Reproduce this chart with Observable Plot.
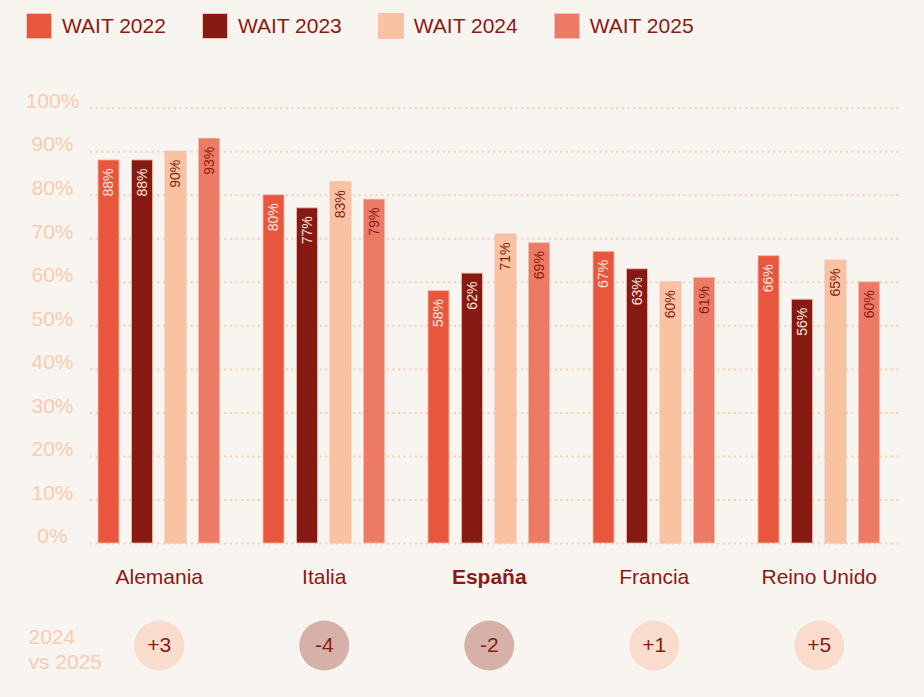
<!DOCTYPE html>
<html>
<head>
<meta charset="utf-8">
<script src="https://cdn.jsdelivr.net/npm/d3@7"></script>
<script src="https://cdn.jsdelivr.net/npm/@observablehq/plot@0.6"></script>
<style>
  html, body { margin: 0; padding: 0; background: #f8f4ef; }
  body { width: 924px; height: 697px; overflow: hidden; font-family: "Liberation Sans", Arial, sans-serif; }
  #legend { position: relative; height: 52px; display: flex; align-items: center; padding-left: 26px; gap: 36px; box-sizing: border-box; }
  .item { display: flex; align-items: center; gap: 10px; font-size: 21px; color: #8b1a14; }
  .sw { width: 24px; height: 24px; border: 1px solid #f6c2b0; }
  #chart { position: relative; width: 924px; height: 645px; }
  #chart svg { position: absolute; left: 0; top: 0; }
</style>
</head>
<body>
<div id="legend"></div>
<div id="chart"></div>
<script>
const countries = ["Alemania", "Italia", "España", "Francia", "Reino Unido"];
const years = ["WAIT 2022", "WAIT 2023", "WAIT 2024", "WAIT 2025"];
const wait2022 = [88, 80, 58, 67, 66];
const wait2023 = [88, 77, 62, 63, 56];
const wait2024 = [90, 83, 71, 60, 65];
const wait2025 = [93, 79, 69, 61, 60];
const deltas = [3, -4, -2, 1, 5];
const deltaLabels = ["+3", "-4", "-2", "+1", "+5"];
const yTicks = [0, 10, 20, 30, 40, 50, 60, 70, 80, 90, 100];
const rowLabel = "2024\nvs 2025";

const colors = ["#e8573d", "#861a13", "#f9c3a2", "#ec7a64"];
const dark = "#8b1a14";
const peach = "#f9cbb0";

const series = [wait2022, wait2023, wait2024, wait2025];
const data = [];
countries.forEach((c, i) => years.forEach((y, j) => data.push({country: c, year: y, value: series[j][i]})));
const deltaData = countries.map((c, i) => ({country: c, delta: deltas[i], label: deltaLabels[i]}));

// legend
const legend = document.getElementById("legend");
years.forEach((y, j) => {
  const it = document.createElement("div");
  it.className = "item";
  it.innerHTML = `<div class="sw" style="background:${colors[j]}"></div><span>${y}</span>`;
  legend.appendChild(it);
});

const W = 924, H = 645, MT = 55.7, MB = 154;
const font = {fontFamily: "'Liberation Sans', Arial, sans-serif", background: "transparent", overflow: "visible"};

const bg = Plot.plot({
  width: W, height: H, marginTop: MT, marginBottom: MB, marginLeft: 90, marginRight: 24,
  style: font,
  y: {domain: [0, 100], axis: null},
  marks: [
    Plot.ruleY(yTicks, {stroke: peach, strokeWidth: 2, strokeDasharray: "2,3.6"}),
    Plot.axisY(yTicks, {tickSize: 0, tickPadding: 38, textAnchor: "middle", fontSize: 21, fill: peach, dy: -7, tickFormat: d => d + "%"}),
    Plot.text([rowLabel], {text: d => d, frameAnchor: "bottom-left", textAnchor: "start", lineAnchor: "bottom", lineHeight: 1.19, dx: -62, dy: 125, fontSize: 21, fill: peach})
  ]
});

const fg = Plot.plot({
  width: W, height: H, marginTop: MT, marginBottom: MB, marginLeft: 85.5, marginRight: 32,
  style: font,
  fx: {domain: countries, paddingInner: 0.112, paddingOuter: 0, round: false, axis: null},
  x: {domain: years, paddingInner: 0.373, paddingOuter: 0.373, round: false, axis: null},
  y: {domain: [0, 100], axis: null},
  color: {domain: years, range: colors},
  marks: [
    Plot.barY(data, {fx: "country", x: "year", y: "value", fill: "year", stroke: "#f4bcaa", strokeWidth: 1, strokeOpacity: 0.8}),
    Plot.text(data.filter(d => d.year === years[0] || d.year === years[1]), {fx: "country", x: "year", y: "value", text: d => d.value + "%", rotate: -90, textAnchor: "end", dy: 8, fontSize: 14, fill: "#fae6de"}),
    Plot.text(data.filter(d => d.year === years[2] || d.year === years[3]), {fx: "country", x: "year", y: "value", text: d => d.value + "%", rotate: -90, textAnchor: "end", dy: 8, fontSize: 14, fill: dark}),
    Plot.text(countries.filter(c => c !== "España"), {fx: d => d, text: d => d, frameAnchor: "bottom", lineAnchor: "bottom", dy: 40, fontSize: 21, fill: dark}),
    Plot.text(countries.filter(c => c === "España"), {fx: d => d, text: d => d, frameAnchor: "bottom", lineAnchor: "bottom", dy: 40, fontSize: 21, fontWeight: "bold", fill: dark}),
    Plot.dot(deltaData.filter(d => d.delta >= 0), {fx: "country", frameAnchor: "bottom", dy: 102, r: 25, fill: "#f9dccb"}),
    Plot.dot(deltaData.filter(d => d.delta < 0), {fx: "country", frameAnchor: "bottom", dy: 102, r: 25, fill: "#d5b1a9"}),
    Plot.text(deltaData, {fx: "country", text: "label", frameAnchor: "bottom", lineAnchor: "middle", dy: 102, fontSize: 21, fill: dark})
  ]
});

const chart = document.getElementById("chart");
chart.appendChild(bg);
chart.appendChild(fg);
</script>
</body>
</html>
